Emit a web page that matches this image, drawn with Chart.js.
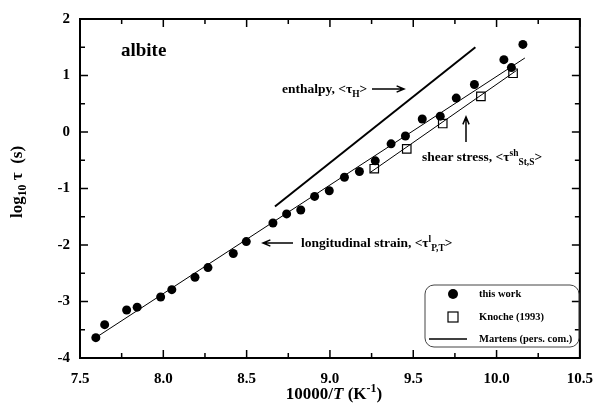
<!DOCTYPE html>
<html>
<head>
<meta charset="utf-8">
<script src="https://cdn.jsdelivr.net/npm/chart.js@4.4.0/dist/chart.umd.min.js"></script>
<style>
  html, body { margin: 0; padding: 0; background: #fff; }
</style>
</head>
<body>
<canvas id="tauChart" width="605" height="406"></canvas>
<script>
// valores (10000/T, log10 tau)
const thisWorkX = [7.595, 7.648, 7.78, 7.843, 7.984, 8.051, 8.19, 8.268, 8.42, 8.498, 8.658, 8.74, 8.825,
                   8.908, 8.996, 9.087, 9.177, 9.272, 9.367, 9.453, 9.554, 9.662, 9.758, 9.867, 10.044, 10.089, 10.158];
const thisWorkY = [-3.64, -3.41, -3.15, -3.10, -2.92, -2.79, -2.57, -2.40, -2.15, -1.94, -1.61, -1.45, -1.38,
                   -1.14, -1.04, -0.80, -0.70, -0.51, -0.21, -0.07, 0.23, 0.28, 0.60, 0.84, 1.28, 1.14, 1.55];
const knocheX = [9.266, 9.461, 9.677, 9.906, 10.099];
const knocheY = [-0.65, -0.30, 0.15, 0.63, 1.04];

// rectas de ajuste
const fitWorkX = [7.61, 10.17];
const fitWorkY = [-3.61, 1.31];
const fitKnocheX = [9.24, 10.12];
const fitKnocheY = [-0.72, 1.09];
const martensX = [8.67, 9.873];
const martensY = [-1.32, 1.50];

const xTicks = [7.5, 8.0, 8.5, 9.0, 9.5, 10.0, 10.5];
const yTicks = [-4, -3, -2, -1, 0, 1, 2];

const serif = '"Liberation Serif", "Times New Roman", serif';

function toPoints(xs, ys) {
    return xs.map((x, i) => ({ x: x, y: ys[i] }));
}

// texto con subíndices / superíndices
function drawRich(ctx, x, y, parts, size, align) {
    const fontFor = p => {
        const s = (p[1] === 'sub' || p[1] === 'sup') ? size * 0.7 : size;
        return (p[1] === 'i' ? 'italic ' : '') + 'bold ' + s + 'px ' + serif;
    };
    const widths = parts.map(p => { ctx.font = fontFor(p); return ctx.measureText(p[0]).width; });
    const total = widths.reduce((a, b) => a + b, 0);
    let cx = align === 'center' ? x - total / 2 : x;
    ctx.textAlign = 'left';
    parts.forEach((p, i) => {
        ctx.font = fontFor(p);
        let dy = 0;
        if (p[1] === 'sub') dy = size * 0.3;
        if (p[1] === 'sup') dy = -size * 0.38;
        ctx.fillText(p[0], cx, y + dy);
        cx += widths[i];
    });
}

function arrow(ctx, x1, y1, x2, y2) {
    const a = Math.atan2(y2 - y1, x2 - x1);
    const h = 8;
    ctx.beginPath();
    ctx.moveTo(x1, y1);
    ctx.lineTo(x2, y2);
    ctx.moveTo(x2 - h * Math.cos(a - 0.4), y2 - h * Math.sin(a - 0.4));
    ctx.lineTo(x2, y2);
    ctx.lineTo(x2 - h * Math.cos(a + 0.4), y2 - h * Math.sin(a + 0.4));
    ctx.stroke();
}

// marco, ticks hacia adentro, textos y leyenda
const framePlugin = {
    id: 'frame',
    afterDraw(chart) {
        const ctx = chart.ctx;
        const area = chart.chartArea;
        const xs = chart.scales.x;
        const ys = chart.scales.y;
        ctx.save();
        ctx.strokeStyle = '#000';
        ctx.fillStyle = '#000';

        ctx.lineWidth = 2;
        ctx.strokeRect(area.left, area.top, area.right - area.left, area.bottom - area.top);

        ctx.lineWidth = 1.5;
        ctx.beginPath();
        xTicks.forEach((v, i) => {
            const px = xs.getPixelForValue(v);
            ctx.moveTo(px, area.bottom); ctx.lineTo(px, area.bottom - 8);
            ctx.moveTo(px, area.top); ctx.lineTo(px, area.top + 8);
            if (i < xTicks.length - 1) {
                const pm = xs.getPixelForValue((v + xTicks[i + 1]) / 2);
                ctx.moveTo(pm, area.bottom); ctx.lineTo(pm, area.bottom - 5);
                ctx.moveTo(pm, area.top); ctx.lineTo(pm, area.top + 5);
            }
        });
        yTicks.forEach((v, i) => {
            const py = ys.getPixelForValue(v);
            ctx.moveTo(area.left, py); ctx.lineTo(area.left + 8, py);
            ctx.moveTo(area.right, py); ctx.lineTo(area.right - 8, py);
            if (i < yTicks.length - 1) {
                const pm = ys.getPixelForValue((v + yTicks[i + 1]) / 2);
                ctx.moveTo(area.left, pm); ctx.lineTo(area.left + 5, pm);
                ctx.moveTo(area.right, pm); ctx.lineTo(area.right - 5, pm);
            }
        });
        ctx.stroke();

        // títulos de ejes
        ctx.textBaseline = 'middle';
        drawRich(ctx, 334, 395, [['10000/', ''], ['T', 'i'], [' (K', ''], ['-1', 'sup'], [')', '']], 17, 'center');
        ctx.save();
        ctx.translate(18, 182);
        ctx.rotate(-Math.PI / 2);
        drawRich(ctx, 0, 0, [['log', ''], ['10', 'sub'], [' \u03c4  (s)', '']], 17, 'center');
        ctx.restore();

        // anotaciones
        ctx.textBaseline = 'alphabetic';
        drawRich(ctx, 121, 56, [['albite', '']], 19, 'left');
        drawRich(ctx, 282, 93, [['enthalpy, <\u03c4', ''], ['H', 'sub'], ['>', '']], 13.5, 'left');
        drawRich(ctx, 422, 161, [['shear stress, <\u03c4', ''], ['sh', 'sup'], ['St,S', 'sub'], ['>', '']], 13.5, 'left');
        drawRich(ctx, 301, 247, [['longitudinal strain, <\u03c4', ''], ['l', 'sup'], ['P,T', 'sub'], ['>', '']], 13.5, 'left');
        ctx.lineWidth = 1.5;
        arrow(ctx, 372, 89, 404, 89);
        arrow(ctx, 466, 142, 466, 117);
        arrow(ctx, 293, 243, 263, 243);

        // leyenda
        ctx.lineWidth = 1;
        ctx.strokeStyle = '#444';
        ctx.beginPath();
        ctx.roundRect(425, 285, 154, 62, 9);
        ctx.stroke();
        ctx.strokeStyle = '#000';
        ctx.beginPath();
        ctx.arc(453, 294, 5, 0, Math.PI * 2);
        ctx.fill();
        ctx.lineWidth = 1.2;
        ctx.strokeRect(448, 312, 10, 10);
        ctx.lineWidth = 1.5;
        ctx.beginPath();
        ctx.moveTo(429, 339); ctx.lineTo(467, 339);
        ctx.stroke();
        ctx.textBaseline = 'middle';
        ctx.font = 'bold 10.5px ' + serif;
        ctx.fillText('this work', 479, 294);
        ctx.fillText('Knoche (1993)', 479, 317);
        ctx.fillText('Martens (pers. com.)', 479, 339);
        ctx.restore();
    }
};

const ctx = document.getElementById('tauChart').getContext('2d');
new Chart(ctx, {
    type: 'scatter',
    data: {
        datasets: [
            {
                label: 'this work',
                data: toPoints(thisWorkX, thisWorkY),
                pointStyle: 'circle',
                pointRadius: 4.5,
                backgroundColor: '#000',
                borderColor: '#000',
                borderWidth: 0
            },
            {
                label: 'Knoche (1993)',
                data: toPoints(knocheX, knocheY),
                pointStyle: 'rect',
                pointRadius: 6,
                backgroundColor: 'rgba(0,0,0,0)',
                borderColor: '#000',
                borderWidth: 1.2
            },
            {
                label: 'ajuste this work',
                data: toPoints(fitWorkX, fitWorkY),
                showLine: true,
                pointRadius: 0,
                borderColor: '#000',
                borderWidth: 1
            },
            {
                label: 'ajuste Knoche',
                data: toPoints(fitKnocheX, fitKnocheY),
                showLine: true,
                pointRadius: 0,
                borderColor: '#000',
                borderWidth: 1
            },
            {
                label: 'Martens (pers. com.)',
                data: toPoints(martensX, martensY),
                showLine: true,
                pointRadius: 0,
                borderColor: '#000',
                borderWidth: 2
            }
        ]
    },
    options: {
        responsive: false,
        animation: false,
        devicePixelRatio: 1,
        layout: { padding: { top: 16, right: 17, left: 0, bottom: 0 } },
        plugins: {
            legend: { display: false },
            tooltip: { enabled: false }
        },
        scales: {
            x: {
                type: 'linear',
                min: 7.5,
                max: 10.5,
                afterFit: s => { s.height = 48; },
                afterBuildTicks: s => { s.ticks = xTicks.map(v => ({ value: v })); },
                grid: { display: false, drawTicks: false },
                border: { display: false },
                ticks: {
                    padding: 12,
                    color: '#000',
                    font: { family: serif, size: 15, weight: 'bold' },
                    callback: v => v.toFixed(1)
                }
            },
            y: {
                type: 'linear',
                min: -4,
                max: 2,
                afterFit: s => { s.width = 80; },
                afterBuildTicks: s => { s.ticks = yTicks.map(v => ({ value: v })); },
                grid: { display: false, drawTicks: false },
                border: { display: false },
                ticks: {
                    padding: 10,
                    color: '#000',
                    font: { family: serif, size: 15, weight: 'bold' },
                    callback: v => String(v)
                }
            }
        }
    },
    plugins: [framePlugin]
});
</script>
</body>
</html>
